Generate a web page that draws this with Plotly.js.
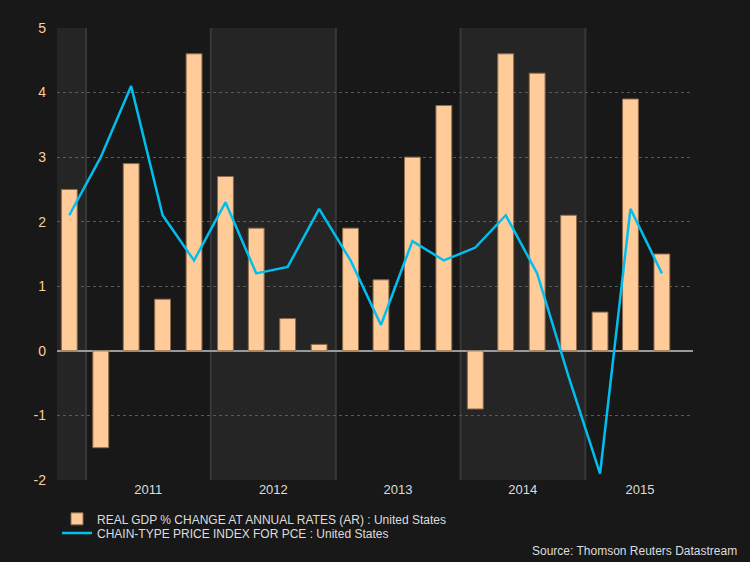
<!DOCTYPE html>
<html>
<head>
<meta charset="utf-8">
<script src="https://cdn.plot.ly/plotly-3.0.1.min.js"></script>
<style>html,body{margin:0;padding:0;background:#181818;}#chart{width:750px;height:562px;}</style>
</head>
<body>
<div id="chart"></div>
<script>
// Quarter dates (middle of each quarter)
const quarters = ["2010-11-13","2011-02-13","2011-05-13","2011-08-13","2011-11-13",
  "2012-02-13","2012-05-13","2012-08-13","2012-11-13",
  "2013-02-13","2013-05-13","2013-08-13","2013-11-13",
  "2014-02-13","2014-05-13","2014-08-13","2014-11-13",
  "2015-02-13","2015-05-13","2015-08-13"];
const gdp = [2.5,-1.5,2.9,0.8,4.6,2.7,1.9,0.5,0.1,1.9,1.1,3.0,3.8,-0.9,4.6,4.3,2.1,0.6,3.9,1.5];
const pce = [2.1,3.0,4.1,2.1,1.4,2.3,1.2,1.3,2.2,1.4,0.4,1.7,1.4,1.6,2.1,1.2,-0.4,-1.9,2.2,1.2];
const years = ["2011","2012","2013","2014","2015"];
const yearLabelDates = ["2011-07-02","2012-07-02","2013-07-02","2014-07-02","2015-06-10"];
const yearStarts = ["2011-01-01","2012-01-01","2013-01-01","2014-01-01","2015-01-01"];
const yTickVals = [-2,-1,0,1,2,3,4,5];
const yTickText = ["-2","-1","0","1","2","3","4","5"];
const xStart = "2010-10-08", xEnd = "2015-11-12";

const shapes = [];
// shaded bands: 2010 tail, 2012, 2014
const bands = [[xStart,"2011-01-01"],["2012-01-01","2013-01-01"],["2014-01-01","2015-01-01"]];
bands.forEach(b => shapes.push({type:"rect",xref:"x",yref:"paper",x0:b[0],x1:b[1],y0:0,y1:1,
  fillcolor:"#252525",line:{width:0},layer:"below"}));
yearStarts.forEach(d => shapes.push({type:"line",xref:"x",yref:"paper",x0:d,x1:d,y0:0,y1:1,
  line:{color:"#383838",width:2},layer:"below"}));

const traces = [
  {type:"bar",x:quarters,y:gdp,name:"REAL GDP % CHANGE AT ANNUAL RATES (AR) : United States",
   width:4.0e9,marker:{color:"#FFCC99",line:{color:"#8c6c4c",width:1}},legend:"legend"},
  {type:"scatter",mode:"lines",x:quarters,y:pce,name:"CHAIN-TYPE PRICE INDEX FOR PCE : United States",
   line:{color:"#00BFEF",width:2.5},legend:"legend2"}
];

const legendBase = {x:0,xanchor:"left",yanchor:"middle",orientation:"v",
    bgcolor:"rgba(0,0,0,0)",font:{size:12,color:"#dddddd"}};

const layout = {
  width:750,height:562,
  paper_bgcolor:"#181818",plot_bgcolor:"#181818",
  margin:{l:57,r:57,t:28,b:82,autoexpand:false},
  font:{family:"Liberation Sans, Arial, sans-serif",color:"#dddddd",size:12},
  showlegend:true,
  legend:Object.assign({},legendBase,{y:-0.086}),
  legend2:Object.assign({},legendBase,{y:-0.117}),
  xaxis:{type:"date",range:[xStart,xEnd],showgrid:false,zeroline:false,
    tickmode:"array",tickvals:yearLabelDates,ticktext:years,ticks:"",
    tickfont:{size:13,color:"#dddddd"},showline:false,fixedrange:true},
  yaxis:{range:[-2,5],tickmode:"array",tickvals:yTickVals,ticktext:yTickText,
    showgrid:true,gridcolor:"#5a5a5a",griddash:"dot",gridwidth:1,
    zeroline:true,zerolinecolor:"#9a9a9a",zerolinewidth:1.5,
    tickfont:{size:14,color:"#FFCC99"},ticks:"",ticklabelstandoff:10,showline:false},
  shapes:shapes,
  annotations:[{xref:"paper",yref:"paper",x:1.072,y:-0.158,xanchor:"right",yanchor:"middle",
    text:"Source: Thomson Reuters Datastream",showarrow:false,font:{size:12,color:"#dddddd"}}],
  bargap:0
};
Plotly.newPlot("chart",traces,layout,{displayModeBar:false,staticPlot:true});
</script>
</body>
</html>
